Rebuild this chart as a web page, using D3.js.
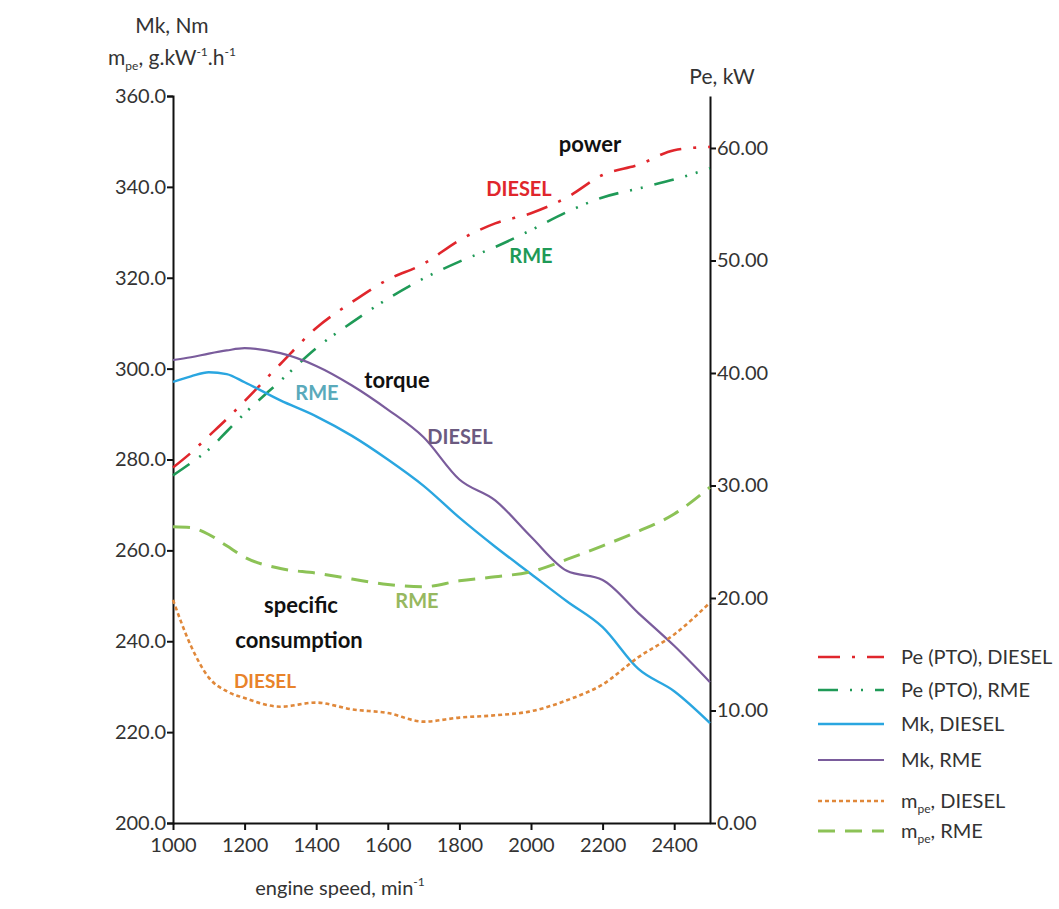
<!DOCTYPE html>
<html><head><meta charset="utf-8">
<script src="https://cdn.jsdelivr.net/npm/d3@7"></script>
<style>
body{margin:0;background:#fff}
text{font-family:Lato,"Open Sans",sans-serif}
</style>
</head><body>
<svg id="c" width="1059" height="909"></svg>
<script>
// ---- data ----
const rpm        = [1000,1050,1100,1150,1200,1300,1400,1500,1600,1700,1800,1900,2000,2100,2200,2300,2400,2500];
const peDiesel   = [31.6,32.9,34.4,35.9,37.5,40.8,44.0,46.3,48.3,49.7,51.8,53.3,54.2,55.6,57.6,58.5,59.8,60.1];
const peRme      = [30.9,32.0,33.2,34.8,36.4,39.3,42.2,44.5,46.6,48.4,49.9,51.2,52.7,54.3,55.6,56.4,57.2,58.2];
const mkDiesel   = [297.1,298.3,299.2,298.8,297.0,293.0,289.5,285.2,280.0,274.2,267.2,260.8,254.8,248.8,243.1,233.9,229.0,222.0];
const mkRme      = [301.9,302.5,303.3,304.0,304.5,303.4,300.6,296.3,291.0,284.9,275.6,271.0,263.0,255.5,253.5,246.2,239.0,231.0];
const mpeDiesel  = [249.1,239.0,232.0,229.0,227.5,225.6,226.5,225.0,224.2,222.3,223.2,223.7,224.6,227.0,230.5,236.5,241.5,248.5];
const mpeRme     = [265.2,265.0,263.5,261.0,258.5,256.0,255.0,253.7,252.5,252.0,253.3,254.2,255.3,258.0,261.0,264.2,268.0,273.9];
const xTicks     = [1000,1200,1400,1600,1800,2000,2200,2400];
const leftTicks  = [200,220,240,260,280,300,320,340,360];
const rightTicks = [0,10,20,30,40,50,60];
const legendLabels = ["Pe (PTO), DIESEL","Pe (PTO), RME","Mk, DIESEL","Mk, RME","mpe, DIESEL","mpe, RME"];

const svg = d3.select("#c");
const x  = d3.scaleLinear().domain([1000,2500]).range([173,710]);
const yL = d3.scaleLinear().domain([200,360]).range([823,96]);
const yR = d3.scaleLinear().domain([0,64.62]).range([823,96]);

const series = [
  {vals:peDiesel, y:yR, color:"#e0262c", dash:"22,12,3,12", w:2.6},
  {vals:peRme,    y:yR, color:"#1f9a57", dash:"20,12,2,9,2,12", w:2.6},
  {vals:mkDiesel, y:yL, color:"#2aa6e0", dash:null, w:2.4},
  {vals:mkRme,    y:yL, color:"#7a5c9c", dash:null, w:2.2},
  {vals:mpeDiesel,y:yL, color:"#e0883a", dash:"4,3", w:2.6},
  {vals:mpeRme,   y:yL, color:"#8cc256", dash:"17,10", w:3}
];

// axes
const axStyle = g => { g.selectAll("path,line").attr("stroke","#111").attr("stroke-width",2);
  g.selectAll("text").attr("font-size",20).attr("fill","#333"); };

svg.append("g").attr("transform","translate(173,0)")
  .call(d3.axisLeft(yL).tickValues(leftTicks).tickFormat(d3.format(".1f")).tickSize(6).tickSizeOuter(6).tickPadding(1))
  .call(axStyle);
svg.append("g").attr("transform","translate(710,0)")
  .call(d3.axisRight(yR).tickValues(rightTicks).tickFormat(d3.format(".2f")).tickSize(6).tickSizeOuter(0).tickPadding(1))
  .call(axStyle);
svg.append("g").attr("transform","translate(0,823)")
  .call(d3.axisBottom(x).tickValues(xTicks).tickFormat(d3.format("d")).tickSize(7).tickSizeOuter(0).tickPadding(8))
  .call(axStyle);

// lines
series.forEach(s=>{
  const line = d3.line().x((d,i)=>x(rpm[i])).y(d=>s.y(d)).curve(d3.curveMonotoneX);
  svg.append("path").datum(s.vals).attr("d",line).attr("fill","none")
    .attr("stroke",s.color).attr("stroke-width",s.w).attr("stroke-dasharray",s.dash);
});

// axis titles
const t = (xx,yy,str,opt={}) => svg.append("text").attr("x",xx).attr("y",yy).text(str)
  .attr("font-size",opt.size||20).attr("fill",opt.fill||"#333").attr("font-weight",opt.bold?"bold":null)
  .attr("text-anchor",opt.anchor||"middle");
t(172,33,"Mk, Nm",{size:21});
const mt = svg.append("text").attr("x",172).attr("y",65).attr("text-anchor","middle").attr("font-size",21).attr("fill","#333");
mt.append("tspan").text("m");
mt.append("tspan").text("pe").attr("font-size",12).attr("dy",5);
mt.append("tspan").text(", g.kW").attr("dy",-5);
mt.append("tspan").text("-1").attr("font-size",12).attr("dy",-9);
mt.append("tspan").text(".h").attr("dy",9);
mt.append("tspan").text("-1").attr("font-size",12).attr("dy",-9);
t(722,84,"Pe, kW",{size:21});
const xt = svg.append("text").attr("x",340).attr("y",895).attr("text-anchor","middle").attr("font-size",20).attr("fill","#333");
xt.append("tspan").text("engine speed, min");
xt.append("tspan").text("-1").attr("font-size",12).attr("dy",-9);

// annotations
t(590,152,"power",{bold:true,fill:"#111",size:22});
t(519,196,"DIESEL",{bold:true,fill:"#e0262c",size:20});
t(531,263,"RME",{bold:true,fill:"#1f9a57",size:20});
t(317,400,"RME",{bold:true,fill:"#5aaabb",size:20});
t(397,388,"torque",{bold:true,fill:"#111",size:22});
t(460,444,"DIESEL",{bold:true,fill:"#6b5a80",size:20});
t(301,613,"specific",{bold:true,fill:"#111",size:22});
t(299,648,"consumption",{bold:true,fill:"#111",size:22});
t(265,688,"DIESEL",{bold:true,fill:"#e8832a",size:19});
t(417,608,"RME",{bold:true,fill:"#97b860",size:20});

// legend
const ly = [657,690,724,760,801,831];
series.forEach((s,i)=>{
  svg.append("line").attr("x1",818).attr("x2",884).attr("y1",ly[i]).attr("y2",ly[i])
    .attr("stroke",s.color).attr("stroke-width",s.w).attr("stroke-dasharray",s.dash);
  const lt = svg.append("text").attr("x",901).attr("y",ly[i]+7).attr("font-size",20).attr("fill","#333");
  const lab = legendLabels[i];
  if (lab.startsWith("mpe")) {
    lt.append("tspan").text("m");
    lt.append("tspan").text("pe").attr("font-size",12).attr("dy",5);
    lt.append("tspan").text(lab.slice(3)).attr("dy",-5);
  } else lt.text(lab);
});
</script>
</body></html>
